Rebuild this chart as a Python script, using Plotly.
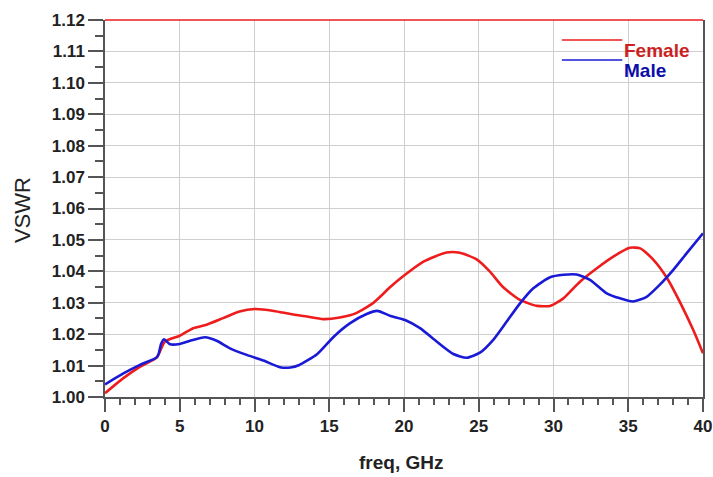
import plotly.graph_objects as go

female_f = [0, 1.23, 2.3, 3.46, 4.0, 5.0, 5.9, 6.8, 7.9, 9.0, 10.0, 11.3, 12.4, 13.5, 14.6, 15.7,
            16.8, 17.9, 18.4, 19.1, 20.07, 21.3, 22.85, 23.74, 24.86, 25.75, 26.6, 27.76, 28.9,
            29.77, 30.66, 31.77, 32.9, 34.0, 35.1, 35.8, 36.7, 37.6, 38.5, 39.35, 40.0]
female_v = [1.0012, 1.006, 1.0095, 1.0126, 1.0176, 1.0195, 1.0219, 1.023, 1.0251, 1.0272, 1.028,
            1.0274, 1.0264, 1.0256, 1.0248, 1.0253, 1.0267, 1.0298, 1.0319, 1.0351, 1.0389, 1.0431,
            1.046, 1.0459, 1.0438, 1.0399, 1.0351, 1.0309, 1.029, 1.029, 1.0314, 1.0367, 1.041,
            1.0447, 1.0475, 1.0473, 1.0436, 1.0378, 1.0298, 1.0213, 1.0139]

male_f = [0, 1.23, 2.34, 3.46, 3.6, 3.75, 3.95, 4.35, 5.0, 5.69, 6.69, 7.47, 8.36, 9.48, 10.6,
          11.7, 12.4, 13.0, 14.2, 15.3, 16.4, 17.5, 18.2, 19.1, 20.07, 21.07, 22.2, 23.3, 24.2,
          25.08, 25.97, 26.87, 27.76, 28.65, 29.77, 30.66, 31.55, 32.44, 33.56, 34.45, 35.3,
          36.2, 37.1, 38.0, 38.9, 40.0]
male_v = [1.004, 1.0075, 1.0102, 1.0126, 1.0139, 1.0169, 1.0184, 1.0168, 1.0169, 1.0179, 1.019,
          1.0179, 1.0155, 1.0134, 1.0116, 1.0095, 1.0094, 1.0102, 1.0137, 1.0192, 1.0235, 1.0264,
          1.0274, 1.0258, 1.0245, 1.0219, 1.0176, 1.0137, 1.0125, 1.0141, 1.0182, 1.024, 1.0298,
          1.0346, 1.0381, 1.0389, 1.039, 1.0373, 1.033, 1.0314, 1.0304, 1.0318, 1.0357, 1.0404,
          1.0457, 1.0521]

x_ticks = [0, 5, 10, 15, 20, 25, 30, 35, 40]
y_ticks = [1.00, 1.01, 1.02, 1.03, 1.04, 1.05, 1.06, 1.07, 1.08, 1.09, 1.10, 1.11, 1.12]

RED = "#ee1c1c"
BLUE = "#1a1ad6"
FONT = "Liberation Sans, Arial, sans-serif"

fig = go.Figure()
fig.add_trace(go.Scatter(x=female_f, y=female_v, mode="lines", name="Female",
                         line=dict(color=RED, width=2.6, shape="spline", smoothing=0.6)))
fig.add_trace(go.Scatter(x=male_f, y=male_v, mode="lines", name="Male",
                         line=dict(color=BLUE, width=2.6, shape="spline", smoothing=0.6)))

fig.update_layout(
    width=713, height=477,
    margin=dict(l=105, r=10, t=20, b=80, autoexpand=False),
    paper_bgcolor="white", plot_bgcolor="white",
    showlegend=False,
    font=dict(family=FONT, color="#222"),
)
fig.update_xaxes(
    range=[0, 40], tickvals=x_ticks, ticktext=[f"<b>{t}</b>" for t in x_ticks],
    showgrid=True, gridcolor="#cfcfcf", gridwidth=1,
    showline=True, linecolor="#555", linewidth=1.5,
    ticks="outside", ticklen=13, tickwidth=1.5, tickcolor="#555",
    minor=dict(dtick=1, ticks="outside", ticklen=6, tickwidth=1.5, tickcolor="#555", showgrid=False),
    tickfont=dict(size=17, family=FONT, color="#222"),
    zeroline=False, automargin=False,
)
fig.update_yaxes(
    range=[1.00, 1.12], tickvals=y_ticks, ticktext=[f"<b>{t:.2f}</b>" for t in y_ticks],
    showgrid=True, gridcolor="#cfcfcf", gridwidth=1,
    showline=True, linecolor="#555", linewidth=1.5, mirror=True,
    ticks="outside", ticklen=15, tickwidth=1.5, tickcolor="#555",
    minor=dict(dtick=0.005, ticks="outside", ticklen=8, tickwidth=1.5, tickcolor="#555", showgrid=False),
    tickfont=dict(size=17, family=FONT, color="#222"),
    zeroline=False, automargin=False,
)

# axis titles
fig.add_annotation(xref="paper", yref="paper", x=0.495, y=-0.175, xanchor="center", yanchor="middle",
                   text="<b>freq, GHz</b>", showarrow=False, font=dict(size=19, family=FONT, color="#222"))
fig.add_annotation(xref="paper", yref="paper", x=-0.138, y=0.497, xanchor="center", yanchor="middle",
                   text="VSWR", textangle=-90, showarrow=False, font=dict(size=22, family=FONT, color="#222"))

# top border in red
fig.add_shape(type="line", xref="paper", yref="paper", x0=0, x1=1, y0=1, y1=1,
              line=dict(color=RED, width=1.5))

# legend drawn manually
fig.add_shape(type="line", xref="paper", yref="paper", x0=0.764, x1=0.865, y0=0.947, y1=0.947,
              line=dict(color=RED, width=1.5))
fig.add_shape(type="line", xref="paper", yref="paper", x0=0.764, x1=0.865, y0=0.894, y1=0.894,
              line=dict(color=BLUE, width=1.5))
fig.add_annotation(xref="paper", yref="paper", x=0.864, y=0.92, xanchor="left", yanchor="middle",
                   text="<b>Female</b>", showarrow=False, font=dict(size=19, family=FONT, color="#cc1f1f"))
fig.add_annotation(xref="paper", yref="paper", x=0.864, y=0.867, xanchor="left", yanchor="middle",
                   text="<b>Male</b>", showarrow=False, font=dict(size=19, family=FONT, color="#0c0ca8"))

fig.write_html("out.html", config={"displayModeBar": False},
               post_script="document.body.style.margin='0';document.body.style.overflow='hidden';")
